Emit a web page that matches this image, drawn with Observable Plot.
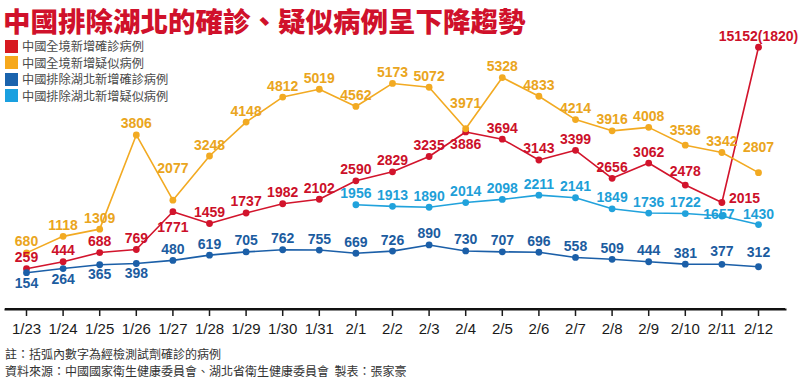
<!DOCTYPE html>
<html><head><meta charset="utf-8">
<script src="https://cdn.jsdelivr.net/npm/d3@7"></script>
<script src="https://cdn.jsdelivr.net/npm/@observablehq/plot@0.6"></script>
<style>
body{margin:0;background:#fff;}
#wrap{position:relative;width:800px;height:382px;font-family:"Noto Sans CJK TC","Noto Sans CJK SC",sans-serif;background:#fff;}
#chart{position:relative;z-index:1;}
#baseline{position:absolute;left:5px;top:308px;width:780px;height:2px;background:#111;z-index:0;}
#title{position:absolute;z-index:2;left:3px;top:3px;font-size:27.5px;font-weight:900;color:#d0112b;line-height:34px;white-space:nowrap;}
#legend{position:absolute;z-index:2;left:5px;top:38px;}
.row{display:flex;align-items:center;height:16.5px;font-size:12.2px;color:#4a4a4a;white-space:nowrap;}
.sw{width:13px;height:13px;margin-right:4px;flex:none;}
.note{position:absolute;z-index:2;left:5px;font-size:12px;line-height:17px;color:#333;white-space:nowrap;}
</style></head>
<body>
<div id="wrap">
  <div id="baseline"></div>
  <div id="chart"></div>
  <div id="title">中國排除湖北的確診、疑似病例呈下降趨勢</div>
  <div id="legend"></div>
  <div class="note" style="top:344.5px">註：括弧內數字為經檢測試劑確診的病例</div>
  <div class="note" style="top:361.5px">資料來源：中國國家衛生健康委員會、湖北省衛生健康委員會&nbsp;&nbsp;製表：張家豪</div>
</div>
<script>
const dates = ["1/23","1/24","1/25","1/26","1/27","1/28","1/29","1/30","1/31","2/1","2/2","2/3","2/4","2/5","2/6","2/7","2/8","2/9","2/10","2/11","2/12"];
const chinaConfirmed = [259,444,688,769,1771,1459,1737,1982,2102,2590,2829,3235,3886,3694,3143,3399,2656,3062,2478,2015,15152];
const chinaSuspected = [680,1118,1309,3806,2077,3248,4148,4812,5019,4562,5173,5072,3971,5328,4833,4214,3916,4008,3536,3342,2807];
const exHubeiConfirmed = [154,264,365,398,480,619,705,762,755,669,726,890,730,707,696,558,509,444,381,377,312];
const exHubeiSuspected = [null,null,null,null,null,null,null,null,null,1956,1913,1890,2014,2098,2211,2141,1849,1736,1722,1657,1430];
const clinicalNote = {"2/12": 1820};

const seriesNames = ["中國全境新增確診病例","中國全境新增疑似病例","中國排除湖北新增確診病例","中國排除湖北新增疑似病例"];
const seriesKeys = ["cc","cs","hc","hs"];
const seriesValues = [chinaConfirmed, chinaSuspected, exHubeiConfirmed, exHubeiSuspected];
const lineColors = ["#d2142c","#f2aa22","#1b5fa8","#21a2dc"];
const textColors = ["#cc1029","#eaa520","#1c5c9f","#1e9fd8"];
const legendColors = ["#d71920","#f6a81c","#1a63ad","#1aa0e0"];

// label placement (style): default above the point
const placement = {
  "cc|1/27": {dy: 16}, "cc|2/4": {dy: 12.5}, "cc|2/10": {dy: -14}, "cc|2/11": {dx: 7, dy: -4, anchor: "start"},
  "cs|1/27": {dy: -32}, "cs|2/4": {dy: -25}, "cs|2/10": {dy: -15}, "cs|2/12": {dy: -25},
  "hc|1/23": {dy: 11}, "hc|1/24": {dy: 10.5}, "hc|1/25": {dy: 10}, "hc|1/26": {dy: 10}, "hc|2/11": {dy: -13}, "hc|2/12": {dy: -14},
  "hs|2/11": {dy: -2, dx: -3}, "hs|2/12": {dy: -10}
};

const rows = [];
seriesValues.forEach((vals, s) => dates.forEach((d, i) => {
  if (vals[i] == null) return;
  const p = Object.assign({dx: 0, dy: -11, anchor: "middle"}, placement[seriesKeys[s] + "|" + d] || {});
  const note = s === 0 && clinicalNote[d] ? `(${clinicalNote[d]})` : "";
  rows.push({s, series: seriesNames[s], date: d, value: vals[i], label: `${vals[i]}${note}`, ...p});
}));

// legend
const lg = document.getElementById("legend");
seriesNames.forEach((n, i) => {
  const r = document.createElement("div"); r.className = "row";
  r.innerHTML = `<span class="sw" style="background:${legendColors[i]}"></span>${n}`;
  lg.appendChild(r);
});

const marks = [];
marks.push(Plot.frame({anchor: "bottom", stroke: "#111", strokeWidth: 2}));
seriesNames.forEach((n, s) => {
  marks.push(Plot.line(rows.filter(r => r.s === s), {x: "date", y: "value", stroke: lineColors[s], strokeWidth: 1.6}));
});
seriesNames.forEach((n, s) => {
  marks.push(Plot.dot(rows.filter(r => r.s === s), {x: "date", y: "value", r: 3.4, fill: lineColors[s], stroke: "none"}));
});
const groups = d3.groups(rows, r => `${r.s}|${r.dx}|${r.dy}|${r.anchor}`);
for (const [, g] of groups) {
  const r0 = g[0];
  marks.push(Plot.text(g, {x: "date", y: "value", text: "label", dx: r0.dx, dy: r0.dy, textAnchor: r0.anchor,
    fill: textColors[r0.s], fontSize: 14, fontWeight: "bold", fontFamily: "Liberation Sans, Arial, sans-serif"}));
}
marks.push(Plot.axisX({tickSize: 7, tickPadding: 7, fontSize: 15, label: null,
  fontFamily: "Liberation Sans Narrow, Arial Narrow, Liberation Sans, sans-serif", stroke: "#1a1a1a", fill: "#1a1a1a", strokeWidth: 1.5}));

const chart = Plot.plot({
  width: 800, height: 382,
  marginLeft: 5, marginRight: 15, marginTop: 0, marginBottom: 73,
  x: {type: "point", domain: dates, range: [26, 758], padding: 0, round: false, label: null},
  y: {type: "linear", domain: [0, 5500, 15152], range: [278, 70.6, 46.7], axis: null},
  style: {background: "transparent"},
  marks
});
document.getElementById("chart").appendChild(chart);
</script>
</body></html>
